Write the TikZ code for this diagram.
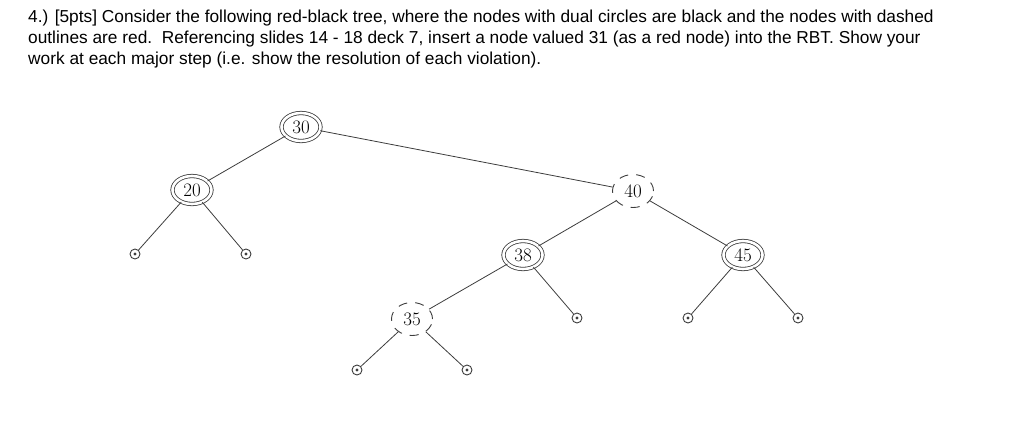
\documentclass[tikz,border=0pt]{standalone}
\usepackage{fontspec}
\newfontfamily\questionfont{Liberation Sans}
\usetikzlibrary{shapes.geometric}
\definecolor{EdgeGray}{HTML}{3C3C3C}
\tikzset{
  question/.style={anchor=base west, inner sep=0pt, font=\questionfont\fontsize{17.3}{21}\selectfont},
  blacknode/.style={ellipse, draw=EdgeGray, line width=0.8pt, double, double distance=2.6pt, inner sep=0pt, minimum width=39pt, minimum height=28pt, font=\fontsize{19}{20}\selectfont},
  rednode/.style={ellipse, draw=EdgeGray, line width=0.9pt, dash pattern=on 9pt off 8pt, inner sep=0pt, minimum width=41pt, minimum height=33pt, font=\fontsize{19}{20}\selectfont},
  leaf/.style={circle, draw=EdgeGray, line width=0.9pt, inner sep=0pt, minimum size=10pt, path picture={\fill[EdgeGray] (path picture bounding box.center) circle (1.6pt);}},
  edge/.style={draw=EdgeGray, line width=0.8pt}
}
\begin{document}
\begin{tikzpicture}[x=1pt, y=-1pt]
  \useasboundingbox (0,0) rectangle (1024,421);
  \node[question] (line1) at (28,22.5) {4.) [5pts] Consider the following red-black tree, where the nodes with dual circles are black and the nodes with dashed};
  \node[question] (line2) at (28,43.5) {outlines are red.\ \ Referencing slides 14 - 18 deck 7, insert a node valued 31 (as a red node) into the RBT. Show your};
  \node[question] (line3) at (28,64.5) {work at each major step (i.e. show the resolution of each violation).};

  \node[blacknode] (n30) at (301,127) {30};
  \node[blacknode] (n20) at (192,190) {20};
  \node[rednode] (n40) at (633,191) {40};
  \node[blacknode] (n38) at (523,255) {38};
  \node[blacknode] (n45) at (743,255) {45};
  \node[rednode] (n35) at (412,319) {35};

  \node[leaf] (l20a) at (135,254) {};
  \node[leaf] (l20b) at (246,254) {};
  \node[leaf] (l38) at (577,318) {};
  \node[leaf] (l45a) at (688,318) {};
  \node[leaf] (l45b) at (798,318) {};
  \node[leaf] (l35a) at (357,370) {};
  \node[leaf] (l35b) at (467,370) {};

  \draw[edge] (n30) -- (n20);
  \draw[edge] (n30) -- (n40);
  \draw[edge] (n20) -- (l20a);
  \draw[edge] (n20) -- (l20b);
  \draw[edge] (n40) -- (n38);
  \draw[edge] (n40) -- (n45);
  \draw[edge] (n38) -- (n35);
  \draw[edge] (n38) -- (l38);
  \draw[edge] (n45) -- (l45a);
  \draw[edge] (n45) -- (l45b);
  \draw[edge] (n35) -- (l35a);
  \draw[edge] (n35) -- (l35b);
\end{tikzpicture}
\end{document}
